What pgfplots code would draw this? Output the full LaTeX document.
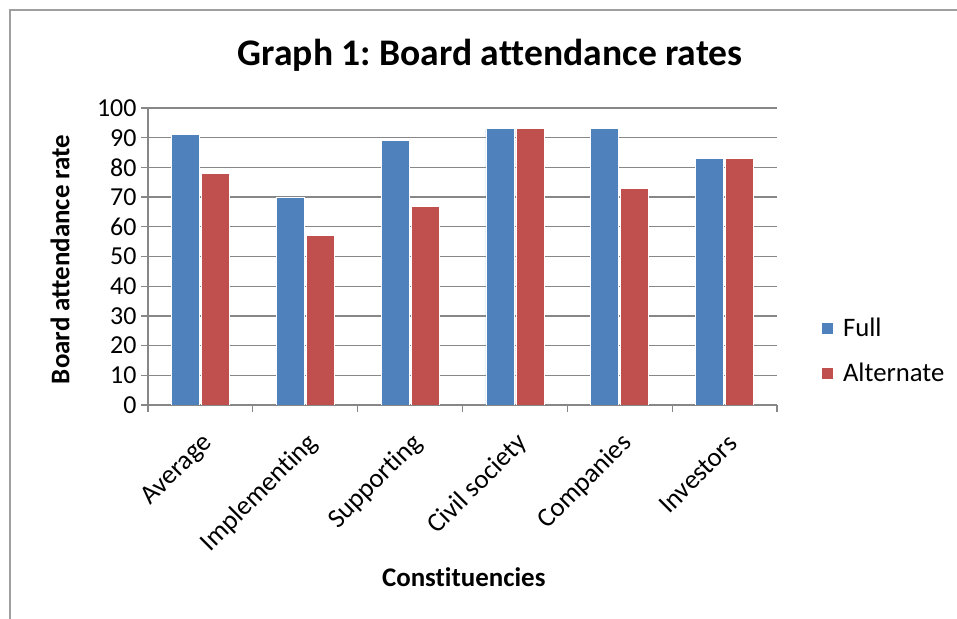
\documentclass[border=0pt]{standalone}
\usepackage{fontspec}
\setmainfont{Carlito}[Ligatures={NoCommon}]
\usepackage{pgfplots}
\pgfplotsset{compat=1.18}
\definecolor{fullc}{HTML}{4F81BD}
\definecolor{altc}{HTML}{C0504D}
\definecolor{gridc}{HTML}{878787}
\frenchspacing
\begin{document}
\begin{tikzpicture}
\useasboundingbox (0,0) rectangle (957bp,619bp);
\fill[white] (0,0) rectangle (957bp,619bp);
\draw[gridc!80, line width=1.5bp] (10bp,0) -- (10bp,609bp) -- (957bp,609bp);
\begin{axis}[
  at={(148bp,214bp)}, anchor=south west,
  scale only axis, width=629bp, height=297bp,
  ymin=0, ymax=100, xmin=-0.5, xmax=5.5,
  ytick={0,10,...,100},
  xtick={-0.5,0.5,...,5.5},
  x tick label as interval,
  xticklabels={Average,Implementing,Supporting,Civil society,Companies,Investors},
  axis x line=bottom, axis y line=left,
  axis line style={-, gridc, line width=1.3bp},
  ymajorgrids, major grid style={gridc, line width=1.3bp},
  tick style={gridc, line width=1.3bp},
  tick align=outside, major tick length=7bp,
  /pgf/number format/assume math mode=true,
  tick label style={font=\fontsize{26}{31}\selectfont},
  yticklabel style={xshift=-1bp},
  x tick label style={rotate=45, anchor=east, font=\fontsize{27}{32}\selectfont, xshift=-10bp, yshift=-25bp},
  ybar=2bp, bar width=28bp,
  title={\textbf{Graph 1: Board attendance rates}},
  title style={at={(rel axis cs:0.544,1.158)}, anchor=center, font=\fontsize{37.7}{45}\selectfont},
  xlabel={\textbf{Constituencies}},
  xlabel style={at={(rel axis cs:0.502,-0.579)}, anchor=center, font=\fontsize{27}{32}\selectfont},
  ylabel={\textbf{Board attendance rate}},
  ylabel style={at={(rel axis cs:-0.140,0.49)}, anchor=center, rotate=0, font=\fontsize{27}{32}\selectfont},
  legend style={at={(rel axis cs:1.070,0.182)}, anchor=west, draw=none, fill=none,
    font=\fontsize{26.8}{32}\selectfont, row sep=25bp, inner sep=0pt,
    nodes={inner sep=0pt}},
  legend cell align=left,
  legend image code/.code={\fill[#1] (0bp,-6bp) rectangle (12bp,6bp);},
  legend style={/tikz/every odd column/.append style={column sep=9bp}},
]
\addplot[draw=white, line width=0.8bp, fill=fullc] coordinates {(0,91) (1,70) (2,89) (3,93) (4,93) (5,83)};
\addplot[draw=white, line width=0.8bp, fill=altc] coordinates {(0,78) (1,57) (2,67) (3,93) (4,73) (5,83)};
\legend{Full,Alternate}
\end{axis}
\end{tikzpicture}
\end{document}
